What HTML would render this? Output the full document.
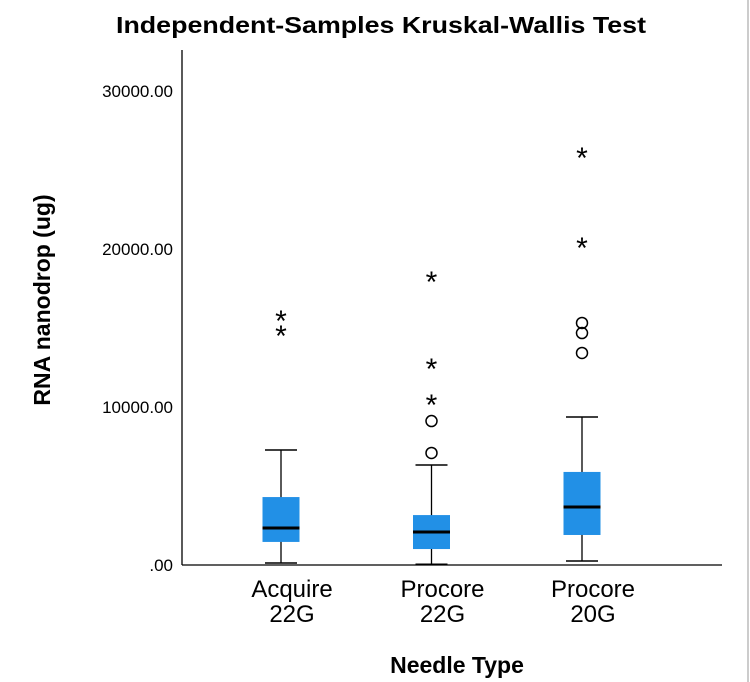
<!DOCTYPE html>
<html><head><meta charset="utf-8"><style>
body{margin:0;background:#fff;}
svg{display:block;font-family:"Liberation Sans",sans-serif;}
</style></head><body>
<svg width="750" height="682" viewBox="0 0 750 682">
<rect x="0" y="0" width="750" height="682" fill="#fff"/>
<line x1="748" y1="0" x2="748" y2="682" stroke="#ccc" stroke-width="2"/>
<text x="381" y="33" text-anchor="middle" font-size="23" font-weight="bold" textLength="530" lengthAdjust="spacingAndGlyphs">Independent-Samples Kruskal-Wallis Test</text>
<text transform="translate(50,300) rotate(-90)" text-anchor="middle" font-size="23" font-weight="bold">RNA nanodrop (ug)</text>
<text x="457" y="673" text-anchor="middle" font-size="23" font-weight="bold">Needle Type</text>
<g id="plot"></g>
</svg>
<script>
const categories=["Acquire|22G","Procore|22G","Procore|20G"];
const whiskerLow=[130,50,250];
const q1=[1460,1010,1900];
const medians=[2340,2090,3670];
const q3=[4300,3160,5890];
const whiskerHigh=[7280,6330,9370];
const outlierCircles=[[],[7090,9110],[13420,14680,15320]];
const outlierStars=[[14680,15630],[10320,12590,18100],[20250,25950]];
const yTicks=[0,10000,20000,30000];
const yTickLabels=[".00","10000.00","20000.00","30000.00"];

const NS="http://www.w3.org/2000/svg";
const g=document.getElementById('plot');
const y0=565, pxPer=0.0158, axisX=182, axisRight=722, axisTop=50;
function yS(v){return y0-v*pxPer;}
function xS(i){return 281+i*150.5;}
function mk(t,a,parent){const e=document.createElementNS(NS,t);for(const k in a)e.setAttribute(k,a[k]);(parent||g).appendChild(e);return e;}

let e=mk('line',{x1:axisX,y1:axisTop,x2:axisX,y2:y0,stroke:'#000','stroke-width':1.3});


e=mk('line',{x1:axisX,y1:y0,x2:axisRight,y2:y0,stroke:'#000','stroke-width':1.3});



yTicks.forEach((v,i)=>{
 const t=mk('text',{x:173,y:yS(v)+6,'text-anchor':'end','font-size':17});
 t.textContent=yTickLabels[i];
 
 
});

const bw=37,cap=16;
categories.forEach((c,i)=>{
 const cx=xS(i);
 const grp=mk('g',{});
 
 
 mk('line',{x1:cx,y1:yS(whiskerLow[i]),x2:cx,y2:yS(whiskerHigh[i]),stroke:'#000','stroke-width':1.3},grp);
 mk('line',{x1:cx-cap,y1:yS(whiskerHigh[i]),x2:cx+cap,y2:yS(whiskerHigh[i]),stroke:'#000','stroke-width':1.5},grp);
 mk('line',{x1:cx-cap,y1:yS(whiskerLow[i]),x2:cx+cap,y2:yS(whiskerLow[i]),stroke:'#000','stroke-width':1.5},grp);
 mk('rect',{x:cx-bw/2,y:yS(q3[i]),width:bw,height:yS(q1[i])-yS(q3[i]),fill:'#2290e6'},grp);
 mk('line',{x1:cx-bw/2,y1:yS(medians[i]),x2:cx+bw/2,y2:yS(medians[i]),stroke:'#000','stroke-width':3},grp);
 outlierCircles[i].forEach(v=>{
  const o=mk('circle',{cx:cx,cy:yS(v),r:5.5,fill:'none',stroke:'#000','stroke-width':1.5},grp);
  
  
 });
 outlierStars[i].forEach(v=>{
  const s=mk('text',{x:cx,y:yS(v)+13,'text-anchor':'middle','font-size':30},grp);
  s.textContent='*';
  
  
 });
 const parts=c.split('|');
 const l1=mk('text',{x:cx+11,y:597,'text-anchor':'middle','font-size':24});
 l1.textContent=parts[0];
 
 
 const l2=mk('text',{x:cx+11,y:622,'text-anchor':'middle','font-size':24});
 l2.textContent=parts[1];
 
 
});
</script>
</body></html>
